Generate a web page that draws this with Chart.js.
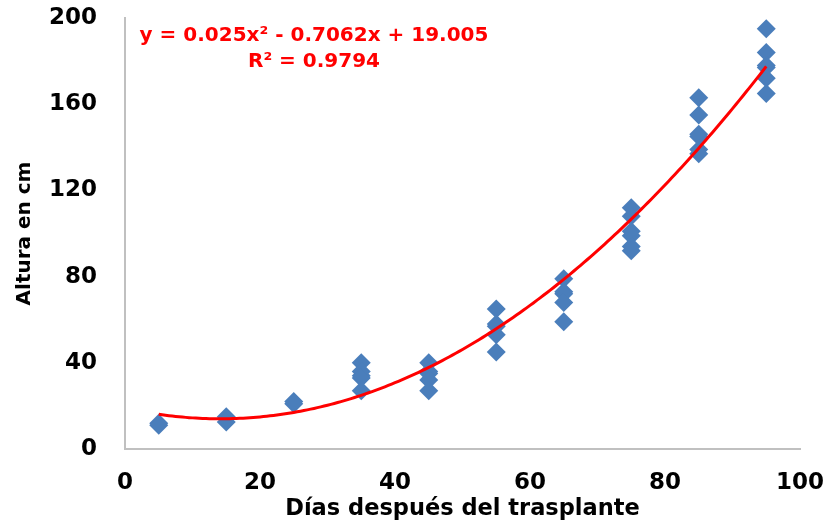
<!DOCTYPE html>
<html>
<head>
<meta charset="utf-8">
<script src="https://cdn.jsdelivr.net/npm/chart.js@4"></script>
<style>
  html, body { margin: 0; padding: 0; background: #ffffff; }
  #wrap { width: 828px; height: 525px; }
</style>
</head>
<body>
<div id="wrap"><canvas id="c" width="828" height="525"></canvas></div>
<script>
// Días después del trasplante (x) and plant heights measured on each day (cm)
const dias = [5, 15, 25, 35, 45, 55, 65, 75, 85, 95];
const alturas = [
  [12, 11],
  [15, 12.5],
  [22, 21],
  [40, 36, 34, 33, 27],
  [40, 36, 35, 32, 27],
  [65, 58, 57, 53, 45],
  [79, 73, 72, 68, 59],
  [112, 108, 101, 99, 94, 92],
  [163, 155, 146, 145, 139, 137],
  [195, 184, 178, 177, 172, 165]
];

// Polynomial (order 2) trend line coefficients and fit quality
const coefA = 0.025, coefB = -0.7062, coefC = 19.005;
const r2 = 0.9794;
const ecuacion = 'y = 0.025x\u00B2 - 0.7062x + 19.005';
const etiquetaR2 = 'R\u00B2 = 0.9794';

const xTicks = [0, 20, 40, 60, 80, 100];
const yTicks = [0, 40, 80, 120, 160, 200];

// Scatter points
const puntos = [];
dias.forEach((d, i) => alturas[i].forEach(h => puntos.push({ x: d, y: h })));

// Trend curve sampled over the observed range
const curva = [];
for (let x = dias[0]; x <= dias[dias.length - 1] + 1e-9; x += 0.5) {
  curva.push({ x: x, y: coefA * x * x + coefB * x + coefC });
}

const FONT = "'DejaVu Sans', sans-serif";

const textoEcuacion = {
  id: 'textoEcuacion',
  afterDatasetsDraw(chart) {
    const ctx = chart.ctx;
    ctx.save();
    ctx.fillStyle = '#ff0000';
    ctx.font = "bold 20px " + FONT;
    ctx.textAlign = 'center';
    ctx.textBaseline = 'middle';
    ctx.fillText(ecuacion, 314, 36);
    ctx.fillText(etiquetaR2, 314, 62);
    ctx.restore();
  }
};

new Chart(document.getElementById('c'), {
  type: 'scatter',
  data: {
    datasets: [
      {
        label: 'Polinómica',
        data: curva,
        showLine: true,
        borderColor: '#ff0000',
        borderWidth: 3,
        pointRadius: 0,
        fill: false,
        tension: 0
      },
      {
        label: 'Altura',
        data: puntos,
        pointStyle: 'rectRot',
        pointRadius: 9.5,
        pointHoverRadius: 9.5,
        backgroundColor: '#4a7ebb',
        borderColor: '#4a7ebb',
        borderWidth: 0
      }
    ]
  },
  options: {
    responsive: false,
    animation: false,
    layout: { padding: { left: 0, right: 28, top: 18, bottom: 0 } },
    plugins: {
      legend: { display: false },
      tooltip: { enabled: false }
    },
    scales: {
      x: {
        type: 'linear',
        min: 0,
        max: 100,
        afterBuildTicks(scale) { scale.ticks = xTicks.map(v => ({ value: v })); },
        afterFit(scale) {
          scale.height = 76;
          scale.paddingLeft = 0;
          scale.paddingRight = 0;
        },
        grid: { display: false, drawTicks: false },
        border: { display: true, color: '#c0c0c0', width: 2 },
        ticks: {
          padding: 20,
          color: '#000',
          font: { family: FONT, size: 23, weight: 'bold' },
          maxRotation: 0
        },
        title: {
          display: true,
          text: 'Días después del trasplante',
          color: '#000',
          font: { family: FONT, size: 22.5, weight: 'bold' },
          padding: { top: 0, bottom: 2 }
        }
      },
      y: {
        type: 'linear',
        min: 0,
        max: 200,
        afterBuildTicks(scale) { scale.ticks = yTicks.map(v => ({ value: v })); },
        afterFit(scale) {
          scale.width = 125;
          scale.paddingTop = 0;
          scale.paddingBottom = 0;
        },
        grid: { display: false, drawTicks: false },
        border: { display: true, color: '#c0c0c0', width: 2 },
        ticks: {
          padding: 28,
          color: '#000',
          font: { family: FONT, size: 23, weight: 'bold' }
        },
        title: {
          display: true,
          text: 'Altura en cm',
          color: '#000',
          font: { family: FONT, size: 20, weight: 'bold' },
          padding: { top: 13, bottom: 0 }
        }
      }
    }
  },
  plugins: [textoEcuacion]
});
</script>
</body>
</html>
